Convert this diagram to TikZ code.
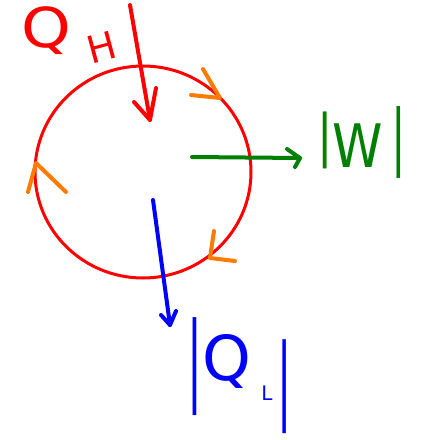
\documentclass[tikz,border=0pt]{standalone}
\usepackage{graphicx}
\usepackage{fontspec}
\setmainfont{DejaVu Sans}
\definecolor{hred}{RGB}{255,0,0}
\definecolor{horange}{RGB}{255,122,0}
\definecolor{hgreen}{RGB}{0,128,0}
\definecolor{hblue}{RGB}{0,0,255}
\tikzset{
  cyc/.style={draw=hred, line width=3pt},
  pen/.style={line width=4pt, line cap=round, line join=round},
  dir/.style={pen, draw=horange},
  glyph/.style={inner sep=0pt, outer sep=0pt, anchor=center},
  lbl/.style={inner sep=0pt, outer sep=0pt, anchor=base west},
}
\newcommand{\fs}[1]{\fontsize{#1}{#1}\selectfont}
% thinned bar: size, x-scale
\newcommand{\tbar}[2]{{\fs{#1}\scalebox{#2}[1]{|}}}
\begin{document}
\begin{tikzpicture}[x=1pt,y=-1pt]
\useasboundingbox (0,0) rectangle (424,440);
% cycle
\coordinate (c) at (143,172);
\draw[cyc] (c) ellipse [x radius=108, y radius=106];
% direction marks (clockwise)
\coordinate (o1a) at (203,69); \coordinate (o1t) at (220,98); \coordinate (o1b) at (191,95);
\draw[dir] (o1a) -- (o1t) -- (o1b);
\coordinate (o2a) at (28,192); \coordinate (o2t) at (36,163); \coordinate (o2b) at (66,192);
\draw[dir] (o2a) -- (o2t) -- (o2b);
\coordinate (o3a) at (214,231); \coordinate (o3t) at (210,258); \coordinate (o3b) at (235,261);
\draw[dir] (o3a) -- (o3t) -- (o3b);
% Q_H arrow
\coordinate (h0) at (130,5); \coordinate (h1) at (150,120);
\coordinate (hl) at (134,102); \coordinate (hr) at (156,88);
\draw[pen, draw=hred] (h0) -- (h1);
\draw[pen, draw=hred] (hl) -- (h1) -- (hr);
\node[glyph, text=hred, font=\fs{55}, xscale=1.15] (qh) at (46,31) {Q};
\node[glyph, text=hred, font=\fs{38}, rotate=15] (hh) at (102,47) {H};
% W arrow
\coordinate (w0) at (192,157); \coordinate (w1) at (300,158);
\coordinate (wa) at (287,149); \coordinate (wb) at (295,167);
\draw[pen, draw=hgreen] (w0) -- (w1);
\draw[pen, draw=hgreen] (wa) -- (w1) -- (wb);
\node[lbl, text=hgreen] (wl) at (317.3,167) {%
  \raisebox{12pt}{\tbar{57}{0.8}}%
  {\fs{60}\scalebox{0.85}[1]{W}}\hspace{8pt}%
  \raisebox{6pt}{\tbar{72}{0.6}}};
% Q_L arrow
\coordinate (l0) at (153,200); \coordinate (l1) at (170,325);
\coordinate (la) at (161,315); \coordinate (lb) at (176,311);
\draw[pen, draw=hblue] (l0) -- (l1);
\draw[pen, draw=hblue] (la) -- (l1) -- (lb);
\node[lbl, text=hblue] (ql) at (187.5,380) {%
  \raisebox{-12pt}{\tbar{98}{0.45}}%
  {\fs{62}Q}\hspace{10.3pt}%
  \raisebox{-20pt}{\fs{20}L}\hspace{5.3pt}%
  \raisebox{-31pt}{\tbar{94}{0.45}}};
\end{tikzpicture}
\end{document}
